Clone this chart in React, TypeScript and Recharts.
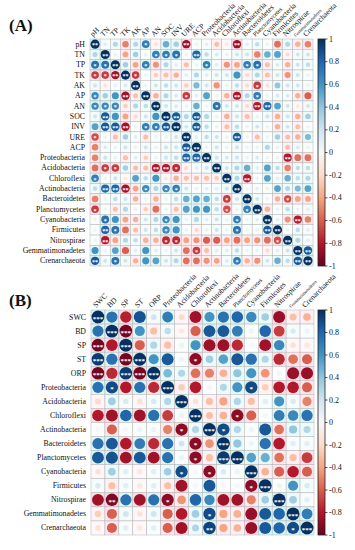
import { ScatterChart, Scatter, XAxis, YAxis } from 'recharts';

const envA = ['pH', 'TN', 'TP', 'TK', 'AK', 'AP', 'AN', 'SOC', 'INV', 'URE', 'ACP'];
const envB = ['SWC', 'BD', 'SP', 'ST', 'ORP'];
const phyla = [
  'Proteobacteria', 'Acidobacteria', 'Chloroflexi', 'Actinobacteria', 'Bacteroidetes',
  'Planctomycetes', 'Cyanobacteria', 'Firmicutes', 'Nitrospirae', 'Gemmatimonadetes', 'Crenarchaeota',
];

// correlation coefficients (row = y label, column = top label)
const corrA = [
  [1, 0.1, 0.3, -0.5, 0.3, 0.7, -0.15, 0.5, 0.35, -0.85, 0.05, 0.1, -0.3, -0.1, -0.85, 0.1, 0.25, 0.05, -0.55, 0.3, -0.35, -0.5],
  [0.3, 1, 0.05, -0.4, 0.35, 0.05, 0.7, 0.7, 0.75, 0.05, 0.8, 0.25, 0.15, 0.05, 0.2, 0.2, -0.5, 0.5, 0.55, -0.2, 0.2, 0.2],
  [0.75, 0.75, 1, 0.35, -0.4, 0.7, -0.45, 0.3, 0.1, -0.3, 0.05, 0.7, 0.1, -0.45, -0.4, 0.7, 0.75, -0.3, 0.15, -0.35, 0.2, 0.25],
  [-0.7, -0.7, -0.85, 1, -0.7, 0.05, -0.25, -0.3, -0.35, 0.1, 0.3, 0.1, 0.2, 0.2, 0.6, -0.2, 0.3, -0.3, 0.2, -0.45, 0.2, 0.05],
  [0.2, -0.15, 0.05, 0.15, 1, 0.05, 0.2, 0.25, 0.2, -0.25, 0.45, 0.2, -0.45, 0.05, 0.25, -0.2, -0.7, -0.15, 0.4, 0.2, 0.2, 0.05],
  [0.65, 0.35, 0.6, -0.85, -0.3, 1, -0.35, 0.3, 0.15, -0.7, 0.1, 0.55, 0.05, -0.35, -0.8, 0.3, 0.7, 0.05, 0.15, 0.15, -0.35, -0.6],
  [0.65, 0.65, 0.65, -0.25, 0.3, 0.25, 1, 0.2, 0.15, 0.05, 0.5, 0.05, 0.75, 0.2, 0.2, -0.2, -0.8, 0.8, 0.55, 0.2, -0.1, 0.2],
  [0.2, 0.85, 0.6, -0.4, -0.2, 0.2, 0.6, 1, 0.85, 0.3, 0.85, 0.3, 0.05, -0.35, 0.2, -0.3, 0.05, 0.2, -0.35, 0.2, -0.35, 0.35],
  [0.55, 0.85, 0.85, -0.85, 0.05, 0.7, 0.7, 0.85, 1, 0.2, 0.85, 0.25, 0.05, -0.3, 0.25, 0.05, 0.2, 0.05, -0.35, 0.2, -0.3, 0.05],
  [-0.65, 0.05, -0.3, 0.35, 0.1, -0.3, 0.05, 0.05, 0.2, 1, 0.1, 0.25, 0.2, 0.05, 0.85, 0.05, -0.3, 0.05, 0.35, -0.3, -0.35, 0.45],
  [-0.5, 0.15, 0.05, 0.2, 0.05, 0.2, 0.05, 0.2, 0.2, 0.85, 1, 0.05, 0.2, 0.05, 0.2, 0.05, 0.05, 0.3, 0.05, -0.3, 0.15, 0.05],
  [-0.5, 0.2, 0.05, -0.3, 0.1, -0.25, 0.05, 0.2, 0.25, 0.8, 0.8, 1, 0.2, 0.15, 0.2, 0.05, 0.15, 0.05, 0.05, -0.8, -0.55, -0.55],
  [-0.55, -0.7, -0.7, 0.35, -0.3, -0.3, -0.8, -0.8, -0.75, -0.2, 0.1, 0.2, 1, 0.2, 0.3, 0.5, 0.1, 0.55, 0.25, -0.5, 0.25, 0.25],
  [0.7, 0.05, 0.2, -0.1, 0.55, 0.25, 0.6, -0.1, -0.35, -0.3, -0.3, -0.3, -0.25, 1, 0.3, -0.8, 0.05, 0.55, 0.1, 0.5, 0.25, 0.3],
  [0.25, 0.8, 0.8, -0.85, -0.4, 0.65, 0.3, 0.65, 0.7, 0.2, 0.05, 0.1, 0.1, 0.2, 1, 0.05, 0.1, 0.05, 0.55, 0.3, 0.45, 0.55],
  [-0.5, 0.05, 0.25, 0.2, -0.35, 0.05, -0.35, 0.05, 0.25, 0.5, 0.55, 0.5, 0.25, -0.7, 0.2, 1, 0.2, 0.05, -0.35, -0.65, -0.4, -0.4],
  [-0.7, 0.05, -0.3, 0.3, 0.05, -0.25, -0.55, 0.05, -0.3, 0.55, 0.6, 0.6, 0.25, -0.65, 0.05, 0.7, 1, -0.35, 0.05, 0.25, 0.05, 0.1],
  [0.05, 0.75, 0.6, -0.4, -0.35, 0.2, 0.3, 0.65, 0.6, 0.05, 0.3, 0.1, 0.2, 0.05, 0.7, 0.05, 0.1, 1, 0.1, -0.45, -0.8, -0.5],
  [0.05, 0.8, 0.75, -0.55, -0.3, 0.2, 0.25, 0.65, 0.6, 0.05, -0.2, 0.05, 0.2, 0.05, 0.75, 0.05, 0.05, 0.85, 1, 0.05, 0.25, 0.1],
  [0.05, -0.8, -0.4, 0.3, 0.25, -0.35, -0.35, -0.75, -0.75, -0.4, -0.45, -0.6, -0.6, -0.4, -0.55, -0.4, -0.45, -0.55, -0.65, 1, 0.3, 0.1],
  [0.6, 0.05, 0.55, -0.6, 0.1, 0.6, 0.1, 0.05, 0.2, -0.55, -0.7, -0.3, 0.1, 0.1, 0.25, 0.05, 0.05, -0.2, 0.1, 0.2, 1, 0.85],
  [0.85, 0.2, 0.75, 0.2, -0.35, 0.6, 0.55, 0.2, 0.3, -0.55, -0.55, -0.45, -0.4, 0.15, 0.7, -0.35, -0.45, 0.2, 0.5, 0.25, 0.85, 1],
];

const corrB = [
  [1, 0.75, -0.78, 0.87, 0.2, 0.7, -0.2, -0.85, 0.6, 0.75, 0.8, 0.65, 0.35, -0.87, -0.3, -0.35],
  [0.75, 1, -0.96, 0.6, -0.3, 0.25, -0.1, -0.6, 0.85, 0.85, 0.7, 0.05, 0.8, -0.7, 0.15, 0.05],
  [-0.96, -0.8, 1, -0.6, 0.3, -0.3, 0.05, 0.6, -0.86, -0.86, -0.75, 0, -0.85, 0.65, -0.15, -0.1],
  [0.96, 0.75, -0.96, 1, 0.6, 0.85, 0.05, -0.9, 0.35, 0.55, 0.86, 0.75, 0.3, -0.75, -0.55, -0.6],
  [-0.96, -0.75, 0.96, -0.96, 1, 0.45, 0.3, -0.55, -0.5, -0.35, 0.4, 0.6, -0.45, 0.02, -0.87, -0.87],
  [0.75, 0.9, -0.8, 0.75, -0.75, 1, -0.25, -0.8, 0, 0.3, 0.6, 0.9, -0.25, -0.8, -0.8, -0.6],
  [-0.2, 0.35, 0.15, -0.15, 0.15, 0.3, 1, -0.15, -0.3, -0.4, 0.3, -0.3, 0.1, 0.6, 0.15, -0.5],
  [-0.8, -0.85, 0.8, -0.85, 0.75, -0.7, 0.05, 1, -0.3, -0.35, -0.9, -0.6, 0, 0.7, 0.65, 0.75],
  [0, -0.6, 0, 0.05, 0.05, -0.5, -0.9, 0.3, 1, 0.9, 0.3, 0.05, 0.85, -0.55, 0.4, 0.3],
  [0.75, 0.85, -0.8, 0.7, -0.75, 0.75, 0.2, -0.9, -0.45, 1, 0.4, 0.05, 0.75, -0.8, 0.1, 0.1],
  [0.85, 0.87, -0.85, 0.85, -0.85, 0.75, 0.05, -0.9, -0.3, 0.96, 1, 0.55, 0.5, -0.55, -0.3, -0.7],
  [-0.15, 0.35, 0.1, -0.1, 0.1, 0.35, 0.9, 0, -0.9, 0.15, 0.05, 1, -0.35, -0.6, -0.8, -0.6],
  [0.15, -0.3, 0.1, -0.1, 0.1, -0.3, -0.85, 0, 0.85, 0, 0, -0.9, 1, 0.05, 0.6, 0.15],
  [-0.85, -0.93, 0.75, -0.85, 0.75, -0.9, -0.45, 0.8, 0.65, -0.85, -0.85, -0.5, 0.35, 1, 0.35, 0.1],
  [-0.25, -0.6, 0.2, -0.15, 0.2, -0.6, -0.8, 0.35, 0.9, -0.4, -0.35, -0.87, 0.85, 0.8, 1, 0.7],
  [-0.15, -0.6, 0.1, -0.1, 0.1, -0.6, -0.85, 0.3, 0.93, -0.4, -0.35, -0.87, 0.85, 0.8, 0.9, 1],
];

const barTicks = [1, 0.8, 0.6, 0.4, 0.2, 0, -0.2, -0.4, -0.6, -0.8, -1];

const FONT = '"Liberation Serif", "Times New Roman", serif';

// RdBu palette, -1 .. 1
const palette: [number, string][] = [
  [-1, '#67001f'], [-0.8, '#b2182b'], [-0.6, '#d6604d'], [-0.4, '#f4a582'], [-0.2, '#fddbc7'],
  [0, '#f7f7f7'], [0.2, '#d1e5f0'], [0.4, '#92c5de'], [0.6, '#4393c3'], [0.8, '#2166ac'], [1, '#053061'],
];

const hex = (h: string) => [1, 3, 5].map((i) => parseInt(h.slice(i, i + 2), 16));
const mix = (a: string, b: string, t: number) => {
  const ca = hex(a), cb = hex(b);
  return `rgb(${ca.map((c, i) => Math.round(c + (cb[i] - c) * t)).join(',')})`;
};
const colorFor = (v: number) => {
  for (let i = 0; i < palette.length - 1; i++) {
    const [v0, c0] = palette[i];
    const [v1, c1] = palette[i + 1];
    if (v <= v1) return mix(c0, c1, (v - v0) / (v1 - v0));
  }
  return palette[palette.length - 1][1];
};
const bgFor = (v: number) => {
  const a = Math.min(1, Math.abs(v) + 0.1) * 0.7;
  return v >= 0 ? mix('#ffffff', '#c4f2ee', a) : mix('#ffffff', '#ffcade', a);
};

const starsA = (v: number) => (Math.abs(v) >= 0.8 ? '**' : Math.abs(v) >= 0.65 ? '*' : '');
const starsB = (v: number) => {
  const a = Math.abs(v);
  return a >= 0.95 ? '***' : a >= 0.92 ? '**' : a >= 0.88 ? '*' : '';
};

const toPoints = (corr: number[][]) =>
  corr.flatMap((row, i) => row.map((v, j) => ({ x: j + 0.5, y: i + 0.5, v })));

const colFont = (name: string) => (name === 'Gemmatimonadetes' ? 4.6 : name === 'Planctomycetes' ? 6.2 : 7.6);

type PanelProps = {
  id: string;
  label: string;
  vars: string[];
  corr: number[][];
  top: number;
  height: number;
  plotTop: number;
  plotLeft: number;
  plotRight: number;
  plotBottom: number;
  starFn: (v: number) => string;
  starSize: number;
  labelY: number;
};

const Panel = ({ id, label, vars, corr, top, height, plotTop, plotLeft, plotRight, plotBottom, starFn, starSize, labelY }: PanelProps) => {
  const n = vars.length;
  const cw = (plotRight - plotLeft) / n;
  const ch = (plotBottom - plotTop) / n;
  const ticks = vars.map((_, i) => i + 0.5);
  const barX = 318;
  const barW = 7;
  const barH = plotBottom - plotTop;
  const gid = `bar-gradient-${id}`;

  const shape = (p: any) => {
    const { cx, cy, payload } = p;
    const v = payload.v as number;
    const r = (Math.min(cw, ch) / 2 - 0.5) * Math.max(0.42, Math.sqrt(Math.abs(v)));
    const s = starFn(v);
    return (
      <g>
        <rect x={cx - cw / 2} y={cy - ch / 2} width={cw} height={ch} fill={bgFor(v)} stroke="#b5b5b5" strokeWidth={0.5} />
        <circle cx={cx} cy={cy} r={r} fill={colorFor(v)} />
        {s && (
          <text x={cx} y={cy + starSize * 0.55} textAnchor="middle" fontSize={starSize} fontWeight="bold" fill="#fff" fontFamily={FONT}>
            {s}
          </text>
        )}
      </g>
    );
  };

  const XTick = (p: any) => {
    const { x, y, payload } = p;
    const name = vars[Math.floor(payload.value)];
    return (
      <text x={x - 2} y={y} transform={`rotate(-45 ${x - 2} ${y})`} textAnchor="start" fontSize={colFont(name)} fill="#111" fontFamily={FONT}>
        {name}
      </text>
    );
  };

  const YTick = (p: any) => {
    const { x, y, payload } = p;
    return (
      <text x={x} y={y} textAnchor="end" dominantBaseline="central" fontSize={7.8} fill="#111" fontFamily={FONT}>
        {vars[Math.floor(payload.value)]}
      </text>
    );
  };

  return (
    <div style={{ position: 'absolute', left: 0, top, width: 355, height }}>
      <ScatterChart
        width={355}
        height={height}
        margin={{ top: 0, right: 355 - plotRight, bottom: height - plotBottom, left: 0 }}
        style={{ fontFamily: FONT }}
      >
        <XAxis
          type="number"
          dataKey="x"
          orientation="top"
          domain={[0, n]}
          ticks={ticks}
          interval={0}
          height={plotTop}
          axisLine={false}
          tickLine={false}
          tickSize={0}
          tickMargin={2}
          tick={<XTick />}
        />
        <YAxis
          type="number"
          dataKey="y"
          domain={[0, n]}
          reversed
          ticks={ticks}
          interval={0}
          width={plotLeft}
          axisLine={false}
          tickLine={false}
          tickSize={0}
          tickMargin={5}
          tick={<YTick />}
        />
        <Scatter data={toPoints(corr)} shape={shape} isAnimationActive={false} />
        <defs>
          <linearGradient id={gid} x1="0" y1="0" x2="0" y2="1">
            {palette.slice().reverse().map(([v, c]) => (
              <stop key={v} offset={`${((1 - v) / 2) * 100}%`} stopColor={c} />
            ))}
          </linearGradient>
        </defs>
        <g>
          <rect x={barX} y={plotTop} width={barW} height={barH} fill={`url(#${gid})`} stroke="#222" strokeWidth={0.8} />
          {barTicks.map((t) => {
            const ty = plotTop + ((1 - t) / 2) * barH;
            return (
              <g key={t}>
                <line x1={barX + barW} x2={barX + barW + 2.5} y1={ty} y2={ty} stroke="#222" strokeWidth={0.8} />
                <text x={barX + barW + 4} y={ty} dominantBaseline="central" fontSize={8} fill="#111" fontFamily={FONT}>
                  {t}
                </text>
              </g>
            );
          })}
        </g>
        <text x={9} y={labelY} fontSize={17} fontWeight="bold" fill="#111" fontFamily={FONT}>
          {label}
        </text>
      </ScatterChart>
    </div>
  );
}

export default function App() {
  return (
    <div style={{ position: 'absolute', left: 0, top: 0, width: 355, height: 550, background: '#fff', overflow: 'hidden' }}>
      <Panel
        id="a"
        label="(A)"
        vars={[...envA, ...phyla]}
        corr={corrA}
        top={0}
        height={272}
        plotTop={39}
        plotLeft={90}
        plotRight={313}
        plotBottom={266}
        starFn={starsA}
        starSize={6}
        labelY={31}
      />
      <Panel
        id="b"
        label="(B)"
        vars={[...envB, ...phyla]}
        corr={corrB}
        top={272}
        height={272}
        plotTop={38}
        plotLeft={91}
        plotRight={314}
        plotBottom={263}
        starFn={starsB}
        starSize={7}
        labelY={34}
      />
    </div>
  );
}
